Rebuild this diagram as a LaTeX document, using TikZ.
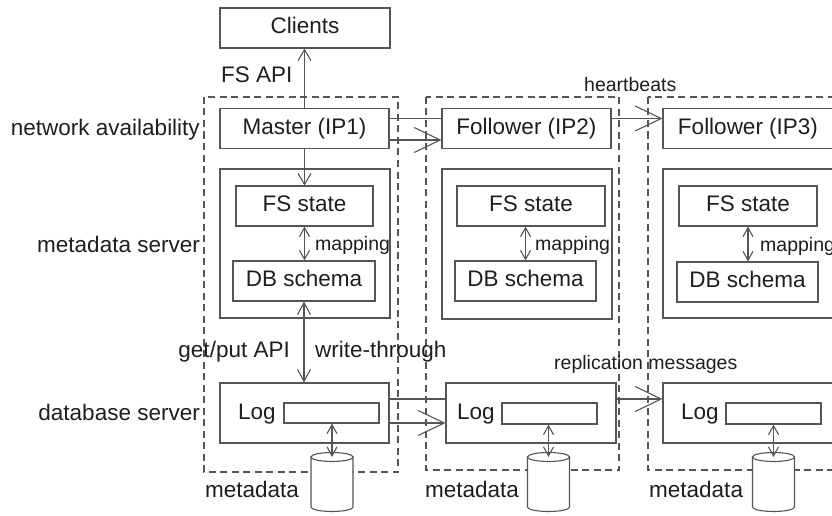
\documentclass[tikz,border=0pt]{standalone}
\usepackage{fontspec}
\setmainfont{Liberation Sans}
\usetikzlibrary{arrows.meta}
\definecolor{ln}{HTML}{555555}
\definecolor{txt}{HTML}{1E1E1E}
\begin{document}
\begin{tikzpicture}[x=1pt,y=-1pt,
  lbl/.style={text=txt,font=\fontsize{22.5}{27}\selectfont,inner sep=0pt,text height=16pt,text depth=4.5pt},
  slbl/.style={text=txt,font=\fontsize{19.5}{23}\selectfont,inner sep=0pt,text height=14pt,text depth=4pt},
  box/.style={lbl,draw=ln,line width=1.1pt,minimum height=40pt},
  frame/.style={draw=ln,line width=1.1pt,inner sep=0pt},
  grp/.style={draw=ln,line width=1.1pt,dash pattern=on 7pt off 4.5pt},
  conn/.style={draw=ln,line width=1.1pt},
  sarr/.style={conn,-{Straight Barb[length=11pt,width=13pt]}},
  dsarr/.style={conn,{Straight Barb[length=12pt,width=13pt]}-{Straight Barb[length=12pt,width=13pt]}},
  marr/.style={conn,{Straight Barb[length=9pt,width=10pt]}-{Straight Barb[length=9pt,width=10pt]}},
  barr/.style={conn,-{Straight Barb[length=26pt,width=25pt]}},
  cyl/.pic={
    \path[draw=ln,line width=1.1pt,fill=white] (-21,0) -- (-21,50)
      arc[start angle=180,end angle=360,x radius=21pt,y radius=4.5pt] -- (21,0) -- cycle;
    \draw[draw=ln,line width=1.1pt,fill=white] (0,0) ellipse[x radius=21pt,y radius=4.5pt];
  }
]
\useasboundingbox (0,0) rectangle (832,516);
\clip (0,0) rectangle (832,516);

% dashed server groups
\draw[grp] (204,97) rectangle (398,472);
\draw[grp] (426,97) rectangle (619,470);
\draw[grp] (648,97) rectangle (880,470);

% top row
\node[box,minimum width=170pt] (clients) at (305,28) {Clients};
\node[box,minimum width=169pt] (m1) at (304.5,128.5) {Master (IP1)};
\node[box,minimum width=169pt] (f2) at (526.5,128.5) {Follower (IP2)};
\node[box,minimum width=170pt] (f3) at (748,128.5) {Follower (IP3)};

% metadata servers
\node[frame,minimum width=170pt,minimum height=149pt] (ms1) at (305,243.5) {};
\node[frame,minimum width=170pt,minimum height=150pt] (ms2) at (527,244) {};
\node[frame,minimum width=171pt,minimum height=149pt] (ms3) at (748.5,243.5) {};

\node[box,minimum width=137pt] (fs1) at (304.5,206) {FS state};
\node[box,minimum width=148pt] (fs2) at (531,206) {FS state};
\node[box,minimum width=138pt] (fs3) at (748,206) {FS state};

\node[box,minimum width=142pt] (db1) at (304,281) {DB schema};
\node[box,minimum width=141pt] (db2) at (525.5,281) {DB schema};
\node[box,minimum width=141pt] (db3) at (747.5,282) {DB schema};

% database servers
\node[frame,minimum width=169pt,minimum height=60pt] (l1) at (304.5,413) {};
\node[frame,minimum width=170pt,minimum height=60pt] (l2) at (531,413) {};
\node[frame,minimum width=171pt,minimum height=60pt] (l3) at (748.5,413) {};

\node[lbl,anchor=west] (lt1) at (238,414) {Log};
\node[lbl,anchor=west] (lt2) at (457,414) {Log};
\node[lbl,anchor=west] (lt3) at (681,414) {Log};

\node[frame,minimum width=95pt,minimum height=20pt] (in1) at (331.5,413) {};
\node[frame,minimum width=95pt,minimum height=21pt] (in2) at (549.5,413.5) {};
\node[frame,minimum width=95pt,minimum height=21pt] (in3) at (773.5,413.5) {};

% cylinders
\coordinate (cy1) at (332,457);
\coordinate (cy2) at (548.5,457);
\coordinate (cy3) at (773.5,457);
\pic at (cy1) {cyl};
\pic at (cy2) {cyl};
\pic at (cy3) {cyl};

% connectors
\draw[sarr] (m1.north) -- (m1.north |- clients.south);
\draw[sarr] (m1.south) -- (m1.south |- fs1.north);
\draw[marr] (fs1.south) -- (fs1.south |- db1.north);
\draw[marr] (fs2.south -| db2.north) -- (db2.north);
\draw[marr] (fs3.south) -- (fs3.south |- db3.north);
\draw[dsarr] (db1.south) -- (db1.south |- l1.north);

\draw[conn] ([yshift=10pt]m1.east) -- ([yshift=10pt]m1.east -| f2.west);
\draw[barr] ([yshift=-11.5pt]m1.east) -- ([yshift=-11.5pt]m1.east -| f2.west);
\draw[barr] ([yshift=10pt]f2.east) -- ([yshift=10pt]f2.east -| f3.west);

\draw[conn] ([yshift=14pt]l1.east) -- ([yshift=14pt]l1.east -| l2.west);
\draw[barr] ([yshift=-10pt]l1.east) -- ([yshift=-10pt]l1.east -| l2.west);
\draw[barr] ([yshift=14pt]l2.east) -- ([yshift=14pt]l2.east -| l3.west);

\draw[marr] (in1.south -| cy1) -- (cy1);
\draw[marr] (in2.south -| cy2) -- (cy2);
\draw[marr] (in3.south -| cy3) -- (cy3);

% labels
\node[lbl,anchor=west] (lfs) at (221,77) {FS API};
\node[slbl,anchor=west] (lhb) at (584,87) {heartbeats};
\node[lbl,anchor=east] (lnet) at (200,130) {network availability};
\node[lbl,anchor=east] (lms) at (200,247) {metadata server};
\node[lbl,anchor=east] (lds) at (200,415) {database server};
\node[slbl,anchor=west] (lmap1) at (315,245) {mapping};
\node[slbl,anchor=west] (lmap2) at (535,245) {mapping};
\node[slbl,anchor=west] (lmap3) at (760,246) {mapping};
\node[lbl,anchor=east] (lgp) at (290,352) {get/put API};
\node[lbl,anchor=west] (lwt) at (315,352) {write-through};
\node[slbl,anchor=west] (lrm) at (554,364) {replication messages};
\node[lbl,anchor=west] (lmd1) at (205,492) {metadata};
\node[lbl,anchor=west] (lmd2) at (425,492) {metadata};
\node[lbl,anchor=west] (lmd3) at (649,492) {metadata};
\end{tikzpicture}
\end{document}
